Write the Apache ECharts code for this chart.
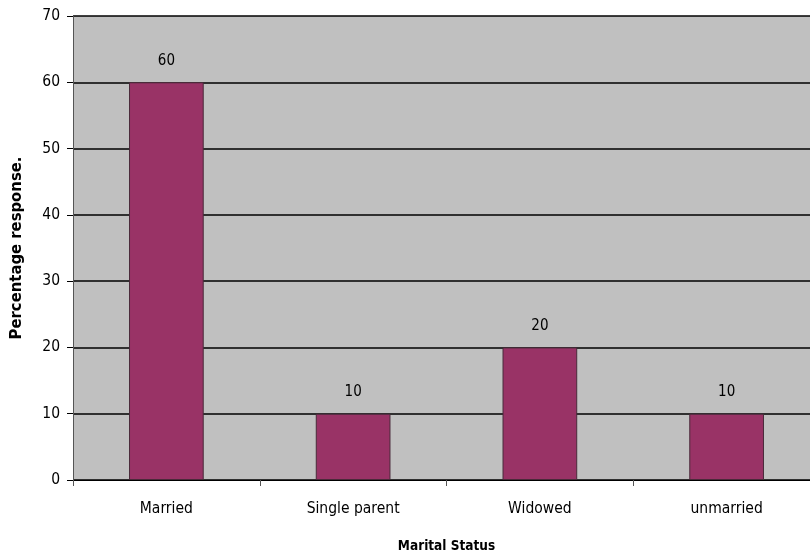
<!DOCTYPE html>
<html><head><meta charset="utf-8">
<script src="https://cdn.jsdelivr.net/npm/echarts@6/dist/echarts.min.js"></script>
<style>html,body{margin:0;padding:0;background:#fff}#c{width:810px;height:555px}</style>
</head><body><div id="c"></div>
<script>
const categories = ["Married", "Single parent", "Widowed", "unmarried"];
const values = [60, 10, 20, 10];
const yTicks = [0, 10, 20, 30, 40, 50, 60, 70];
const F = "'DejaVu Sans Condensed', 'Liberation Sans Narrow', 'Liberation Sans', sans-serif";
const chart = echarts.init(document.getElementById('c'), null, {renderer: 'canvas'});
chart.setOption({
  animation: false,
  grid: {left: 73, top: 16, width: 747, height: 464, outerBoundsMode: 'none', containLabel: false,
         show: true, backgroundColor: '#c0c0c0', borderWidth: 0},
  xAxis: {
    type: 'category', data: categories,
    name: 'Marital Status', nameLocation: 'middle', nameGap: 59,
    nameTextStyle: {fontFamily: F, fontWeight: 'bold', fontSize: 13.5, color: '#000'},
    axisLine: {lineStyle: {color: '#000', width: 1}},
    axisTick: {show: true, length: 6, lineStyle: {color: '#555'}},
    axisLabel: {fontFamily: F, fontSize: 15.5, color: '#000', margin: 21}
  },
  yAxis: {
    type: 'value', min: 0, max: 70, interval: 10,
    name: 'Percentage response.', nameLocation: 'middle', nameGap: 48,
    nameTextStyle: {fontFamily: F, fontWeight: 'bold', fontSize: 16.5, color: '#000'},
    axisLine: {show: true, lineStyle: {color: '#555', width: 1}},
    axisTick: {show: true, length: 6, lineStyle: {color: '#000'}},
    axisLabel: {fontFamily: F, fontSize: 15.5, color: '#000', margin: 13,
      formatter: v => yTicks.includes(v) ? String(v) : ''},
    splitLine: {show: true, lineStyle: {color: '#000', width: 1.5}}
  },
  series: [{
    type: 'bar', data: values, barWidth: '40%',
    itemStyle: {color: '#993366', borderColor: '#4a2a3a', borderWidth: 1},
    label: {show: true, position: 'top', distance: 14, fontFamily: F, fontSize: 15, color: '#000'}
  }]
});
</script></body></html>
